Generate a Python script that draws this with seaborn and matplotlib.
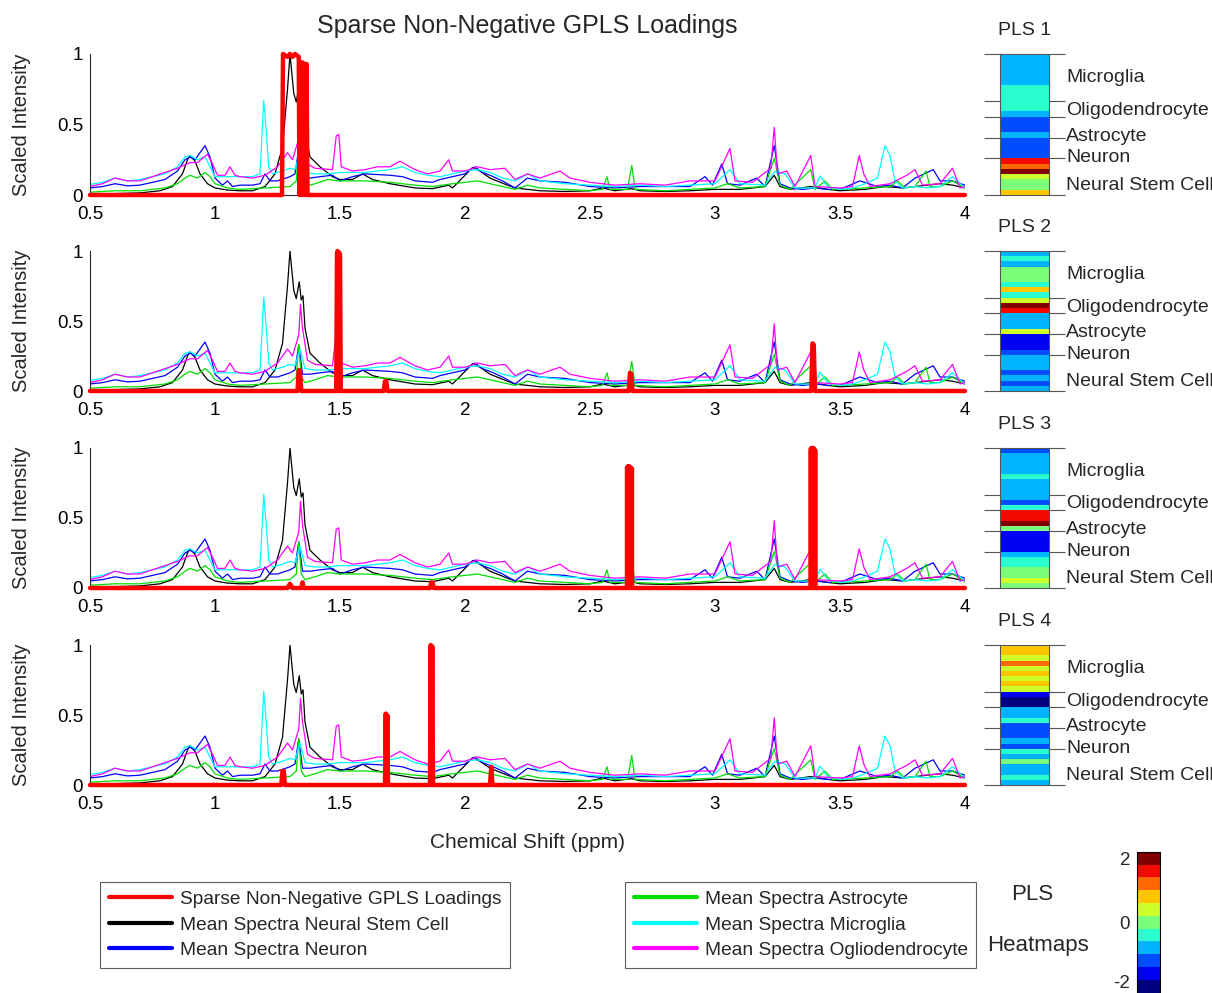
import numpy as np
import pandas as pd
import matplotlib
matplotlib.use("Agg")
import matplotlib.pyplot as plt
from matplotlib.lines import Line2D
from matplotlib import transforms
import seaborn as sns

# ---------------- data ----------------
# Mean spectra (ppm, scaled intensity)
nsc_x = [0.50, 0.60, 0.70, 0.78, 0.83, 0.87, 0.89, 0.90, 0.92, 0.94, 0.97, 1.00, 1.05, 1.10, 1.15, 1.20,
         1.24, 1.27, 1.29, 1.30, 1.315, 1.325, 1.337, 1.345, 1.352, 1.36, 1.38, 1.42, 1.47, 1.50, 1.55,
         1.59, 1.63, 1.70, 1.80, 1.87, 1.935, 1.95, 2.00, 2.03, 2.06, 2.10, 2.17, 2.20, 2.30, 2.40, 2.50,
         2.55, 2.60, 2.667, 2.70, 2.80, 2.90, 3.00, 3.10, 3.20, 3.237, 3.26, 3.30, 3.383, 3.45, 3.50, 3.60,
         3.68, 3.75, 3.80, 3.90, 3.95, 4.00]
nsc_y = [0.01, 0.01, 0.015, 0.03, 0.06, 0.15, 0.25, 0.28, 0.24, 0.15, 0.08, 0.05, 0.035, 0.03, 0.03, 0.06,
         0.15, 0.34, 0.75, 1.00, 0.72, 0.66, 0.78, 0.65, 0.68, 0.45, 0.27, 0.20, 0.13, 0.11, 0.11,
         0.15, 0.11, 0.08, 0.05, 0.045, 0.07, 0.05, 0.14, 0.195, 0.17, 0.12, 0.07, 0.05, 0.03, 0.025, 0.03,
         0.05, 0.03, 0.045, 0.03, 0.025, 0.03, 0.04, 0.04, 0.06, 0.14, 0.06, 0.04, 0.06, 0.04, 0.03, 0.04,
         0.06, 0.05, 0.06, 0.08, 0.07, 0.05]

neuron_x = [0.50, 0.55, 0.60, 0.65, 0.70, 0.75, 0.80, 0.85, 0.88, 0.90, 0.92, 0.94, 0.96, 0.98, 1.00, 1.03,
            1.05, 1.07, 1.10, 1.15, 1.18, 1.20, 1.22, 1.25, 1.30, 1.32, 1.335, 1.35, 1.38, 1.42, 1.47, 1.50,
            1.55, 1.60, 1.70, 1.75, 1.80, 1.87, 1.90, 1.95, 2.00, 2.04, 2.07, 2.10, 2.15, 2.20, 2.25, 2.30,
            2.40, 2.50, 2.60, 2.70, 2.80, 2.90, 2.96, 2.99, 3.027, 3.05, 3.10, 3.167, 3.20, 3.237, 3.26, 3.30,
            3.35, 3.40, 3.45, 3.50, 3.58, 3.65, 3.70, 3.75, 3.80, 3.873, 3.90, 3.95, 4.00]
neuron_y = [0.05, 0.06, 0.08, 0.065, 0.07, 0.09, 0.11, 0.17, 0.25, 0.27, 0.25, 0.30, 0.35, 0.27, 0.12, 0.07,
            0.10, 0.06, 0.07, 0.07, 0.08, 0.15, 0.10, 0.10, 0.13, 0.15, 0.33, 0.12, 0.12, 0.13, 0.14, 0.10,
            0.13, 0.15, 0.14, 0.13, 0.10, 0.09, 0.11, 0.13, 0.15, 0.20, 0.16, 0.14, 0.10, 0.05, 0.12, 0.10,
            0.09, 0.06, 0.05, 0.06, 0.06, 0.06, 0.13, 0.07, 0.22, 0.08, 0.07, 0.12, 0.06, 0.35, 0.08, 0.05,
            0.04, 0.05, 0.04, 0.04, 0.10, 0.06, 0.07, 0.05, 0.12, 0.18, 0.10, 0.10, 0.07]

astro_x = [0.50, 0.60, 0.70, 0.80, 0.85, 0.88, 0.90, 0.93, 0.96, 0.98, 1.00, 1.05, 1.10, 1.20, 1.30, 1.325,
           1.335, 1.345, 1.36, 1.40, 1.45, 1.50, 1.60, 1.70, 1.80, 1.87, 1.95, 2.05, 2.10, 2.15, 2.20, 2.25,
           2.30, 2.40, 2.50, 2.55, 2.568, 2.58, 2.65, 2.667, 2.68, 2.80, 2.90, 3.00, 3.05, 3.10, 3.20, 3.237,
           3.26, 3.30, 3.383, 3.40, 3.44, 3.47, 3.50, 3.60, 3.70, 3.73, 3.76, 3.80, 3.844, 3.86, 3.90, 3.95,
           4.00]
astro_y = [0.02, 0.03, 0.03, 0.05, 0.08, 0.12, 0.14, 0.12, 0.16, 0.13, 0.08, 0.05, 0.04, 0.05, 0.06, 0.10,
           0.33, 0.10, 0.06, 0.08, 0.11, 0.10, 0.10, 0.09, 0.07, 0.06, 0.08, 0.10, 0.08, 0.06, 0.04, 0.07,
           0.05, 0.04, 0.03, 0.04, 0.13, 0.04, 0.04, 0.21, 0.04, 0.03, 0.04, 0.05, 0.08, 0.05, 0.06, 0.26,
           0.07, 0.04, 0.18, 0.04, 0.10, 0.04, 0.04, 0.05, 0.06, 0.10, 0.05, 0.06, 0.17, 0.06, 0.06, 0.10,
           0.05]

micro_x = [0.50, 0.55, 0.60, 0.65, 0.70, 0.75, 0.80, 0.85, 0.88, 0.90, 0.93, 0.96, 0.98, 1.00, 1.05, 1.10,
           1.15, 1.18, 1.195, 1.205, 1.215, 1.23, 1.27, 1.30, 1.32, 1.34, 1.36, 1.40, 1.45, 1.50, 1.55, 1.60,
           1.70, 1.75, 1.80, 1.85, 1.90, 1.95, 2.00, 2.05, 2.10, 2.15, 2.20, 2.253, 2.30, 2.40, 2.50, 2.60,
           2.70, 2.80, 2.90, 3.00, 3.06, 3.10, 3.20, 3.24, 3.28, 3.32, 3.40, 3.42, 3.45, 3.50, 3.55, 3.60,
           3.65, 3.68, 3.70, 3.72, 3.75, 3.80, 3.85, 3.90, 3.95, 4.00]
micro_y = [0.075, 0.09, 0.12, 0.10, 0.11, 0.13, 0.15, 0.20, 0.27, 0.28, 0.25, 0.27, 0.20, 0.13, 0.13, 0.13,
           0.13, 0.15, 0.67, 0.45, 0.20, 0.15, 0.17, 0.19, 0.18, 0.30, 0.16, 0.15, 0.15, 0.16, 0.16, 0.16,
           0.18, 0.20, 0.16, 0.14, 0.13, 0.15, 0.17, 0.18, 0.16, 0.12, 0.10, 0.15, 0.10, 0.08, 0.07, 0.06,
           0.07, 0.06, 0.07, 0.08, 0.18, 0.08, 0.07, 0.17, 0.15, 0.05, 0.05, 0.135, 0.06, 0.04, 0.05, 0.08,
           0.12, 0.35, 0.28, 0.10, 0.05, 0.06, 0.05, 0.06, 0.13, 0.05]

oligo_x = [0.50, 0.55, 0.60, 0.65, 0.70, 0.75, 0.80, 0.85, 0.90, 0.93, 0.97, 0.99, 1.01, 1.04, 1.06, 1.08,
           1.10, 1.15, 1.20, 1.25, 1.29, 1.31, 1.335, 1.342, 1.35, 1.37, 1.40, 1.47, 1.485, 1.495, 1.505,
           1.55, 1.60, 1.65, 1.70, 1.74, 1.80, 1.85, 1.90, 1.935, 1.95, 2.00, 2.05, 2.10, 2.16, 2.20, 2.25,
           2.30, 2.38, 2.42, 2.50, 2.60, 2.70, 2.80, 2.90, 3.00, 3.06, 3.08, 3.15, 3.223, 3.237, 3.25, 3.287,
           3.32, 3.383, 3.40, 3.50, 3.55, 3.577, 3.595, 3.62, 3.70, 3.767, 3.80, 3.83, 3.90, 3.95, 3.98, 4.00]
oligo_y = [0.06, 0.08, 0.12, 0.10, 0.10, 0.13, 0.16, 0.19, 0.23, 0.23, 0.29, 0.22, 0.14, 0.14, 0.20, 0.14,
           0.13, 0.12, 0.14, 0.20, 0.30, 0.25, 0.40, 0.62, 0.45, 0.22, 0.19, 0.18, 0.42, 0.43, 0.20,
           0.17, 0.18, 0.20, 0.20, 0.24, 0.18, 0.15, 0.17, 0.25, 0.17, 0.17, 0.20, 0.18, 0.19, 0.11, 0.15,
           0.12, 0.17, 0.12, 0.09, 0.07, 0.08, 0.07, 0.10, 0.10, 0.33, 0.10, 0.09, 0.19, 0.48, 0.15, 0.17,
           0.06, 0.28, 0.06, 0.05, 0.06, 0.28, 0.15, 0.06, 0.08, 0.14, 0.18, 0.07, 0.08, 0.19, 0.05, 0.06]

spectra_names = ["Mean Spectra Neural Stem Cell", "Mean Spectra Neuron", "Mean Spectra Astrocyte",
                 "Mean Spectra Microglia", "Mean Spectra Ogliodendrocyte"]
spectra_x = [nsc_x, neuron_x, astro_x, micro_x, oligo_x]
spectra_y = [nsc_y, neuron_y, astro_y, micro_y, oligo_y]
spectra_colors = ["black", "blue", "#00e000", "cyan", "magenta"]

# Sparse non-negative GPLS loadings (one per component)
load1_x = [0.5, 1.268, 1.272, 1.29, 1.30, 1.31, 1.32, 1.335, 1.338, 1.342, 1.346, 1.350, 1.354, 1.358,
           1.362, 1.366, 1.370, 4.0]
load1_y = [0, 0, 1.0, 0.98, 1.0, 0.98, 1.0, 0.98, 0.0, 0.94, 0.0, 0.94, 0.0, 0.93, 0.0, 0.93, 0, 0]
load2_x = [0.5, 1.33, 1.335, 1.34, 1.345, 1.485, 1.488, 1.49, 1.493, 1.496, 1.50, 1.503, 1.675, 1.68,
           1.685, 1.69, 2.655, 2.66, 2.665, 2.67, 3.385, 3.39, 3.395, 3.40, 4.0]
load2_y = [0, 0, 0.15, 0.14, 0, 0, 0.98, 1.0, 0.0, 0.99, 0.97, 0, 0, 0.07, 0.07, 0, 0, 0.13, 0.12, 0, 0,
           0.34, 0.33, 0, 0]
load3_x = [0.5, 1.29, 1.30, 1.31, 1.345, 1.35, 1.355, 1.86, 1.865, 1.87, 1.875,
           2.648, 2.648, 2.652, 2.652, 2.656, 2.656, 2.660, 2.660, 2.664, 2.664, 2.668, 2.668,
           3.382, 3.382, 3.386, 3.386, 3.390, 3.390, 3.394, 3.394, 3.398, 3.398, 3.402, 3.402,
           4.0]
load3_y = [0, 0, 0.03, 0, 0, 0.04, 0, 0, 0.04, 0.04, 0,
           0, 0.86, 0.87, 0, 0, 0.87, 0.86, 0, 0, 0.86, 0.85, 0,
           0, 0.99, 1.0, 0, 0, 1.0, 1.0, 0, 0, 0.99, 0.98, 0,
           0]
load4_x = [0.5, 1.265, 1.27, 1.275, 1.28, 1.68, 1.683, 1.686, 1.689, 1.692, 1.86, 1.863, 1.866, 1.869,
           1.872, 2.10, 2.105, 2.11, 4.0]
load4_y = [0, 0, 0.10, 0.10, 0, 0, 0.51, 0.0, 0.50, 0, 0, 1.0, 0.0, 0.99, 0, 0, 0.13, 0, 0]
loads_x = [load1_x, load2_x, load3_x, load4_x]
loads_y = [load1_y, load2_y, load3_y, load4_y]

# PLS heatmaps: 27 samples (top to bottom)
pls1 = [-0.8, -0.8, -0.8, -0.8, -0.8, -0.8, -0.4, -0.4, -0.4, -0.4, -0.4, -0.8, -1.2, -1.2, -1.2, -0.8,
        -1.2, -1.2, -1.2, -1.2, 1.6, 1.2, 2.0, 0.4, 0.0, 0.0, 0.8]
pls2 = [-0.8, -0.4, -0.8, 0.0, 0.0, 0.0, -0.4, 0.8, -0.4, 0.4, 2.0, 1.6, -0.8, -0.8, -0.8, 0.4,
        -1.6, -1.6, -1.6, -1.2, -0.8, -0.8, -0.8, -1.2, -0.8, -1.2, -0.8]
pls3 = [-1.2, -0.8, -0.8, -0.8, -0.8, -0.4, -0.8, -0.8, -0.8, -0.8, -1.2, -0.4, 1.6, 1.6, 2.0, 0.0,
        -1.6, -1.6, -1.6, -1.6, -0.8, -0.4, -0.4, 0.0, 0.0, 0.4, 0.0]
pls4 = [0.8, 0.8, 0.4, 1.2, 0.4, 0.8, 0.4, 0.8, 0.4, -1.6, -2.0, -2.0, -0.8, -0.8, -0.4, -1.2,
        -1.2, -1.2, -0.8, -1.2, -0.4, -0.8, 0.0, -0.8, -0.8, -0.4, -0.8]
pls_values = [pls1, pls2, pls3, pls4]
group_labels = ["Microglia", "Oligodendrocyte", "Astrocyte", "Neuron", "Neural Stem Cell"]
group_bounds = [0, 9, 12, 16, 20, 27]
label_rows = [4.5, 10.8, 15.8, 19.9, 25.2]

x_ticks = [0.5, 1, 1.5, 2, 2.5, 3, 3.5, 4]
x_ticklabels = ["0.5", "1", "1.5", "2", "2.5", "3", "3.5", "4"]
y_ticks = [0, 0.5, 1]
y_ticklabels = ["0", "0.5", "1"]
cbar_ticks = [-2, 0, 2]
cbar_ticklabels = ["-2", "0", "2"]

# ---------------- style ----------------
sns.set_style("white")
plt.rcParams["font.family"] = ["Liberation Sans", "DejaVu Sans"]
plt.rcParams["axes.unicode_minus"] = False
AX = "#262626"

W, H = 1212, 993
fig = plt.figure(figsize=(W / 100, H / 100), dpi=100)


def fx(px):
    return px / W


def fy(py):
    return 1 - py / H


panel_tops = [54, 251, 448, 645]
panel_bots = [195, 391, 588, 785]

spec_df = pd.concat([pd.DataFrame({"ppm": x, "intensity": y, "series": n})
                     for x, y, n in zip(spectra_x, spectra_y, spectra_names)], ignore_index=True)
palette = dict(zip(spectra_names, spectra_colors))

cmap = plt.get_cmap("jet", 11)

for i in range(4):
    top, bot = panel_tops[i], panel_bots[i]
    ax = fig.add_axes([fx(90), fy(bot), fx(965) - fx(90), (bot - top) / H])
    sns.lineplot(data=spec_df, x="ppm", y="intensity", hue="series", palette=palette,
                 estimator=None, sort=False, lw=0.9, legend=False, ax=ax)
    sns.lineplot(x=loads_x[i], y=loads_y[i], color="red", lw=3.2, estimator=None, sort=False,
                 ax=ax, clip_on=False, zorder=5)
    ax.set_xlim(0.5, 4)
    ax.set_ylim(0, 1)
    ax.set_xticks(x_ticks)
    ax.set_xticklabels(x_ticklabels)
    ax.set_yticks(y_ticks)
    ax.set_yticklabels(y_ticklabels)
    ax.set_xlabel("")
    ax.set_ylabel("Scaled Intensity", fontsize=14.5)
    ax.yaxis.set_label_coords(-(90 - 31) / 875, 0.5)
    for s in ["top", "right"]:
        ax.spines[s].set_visible(False)
    for s in ["left", "bottom"]:
        ax.spines[s].set_color(AX)
        ax.spines[s].set_linewidth(0.8)
    ax.tick_params(axis="both", direction="in", length=6, width=0.8, color=AX,
                   labelsize=13.5, labelcolor="black", pad=5)
    ax.tick_params(axis="x", pad=8)
    ax.patch.set_alpha(0)

    # heatmap
    hax = fig.add_axes([fx(1000), fy(bot), fx(1049) - fx(1000), (bot - top) / H])
    sns.heatmap(np.array(pls_values[i]).reshape(-1, 1), ax=hax, cmap=cmap, vmin=-2.2, vmax=2.2,
                cbar=False, xticklabels=False, yticklabels=False)
    for s in hax.spines.values():
        s.set_visible(True)
        s.set_color("#555555")
        s.set_linewidth(0.8)
    hax.set_xticks([])
    hax.set_yticks(group_bounds)
    hax.set_yticklabels([])
    hax.tick_params(axis="y", left=True, right=True, direction="out", length=11.5, width=0.8,
                    color="#555555", labelleft=False)
    tr = transforms.blended_transform_factory(hax.transAxes, hax.transData)
    for lab, r in zip(group_labels, label_rows):
        hax.text((1066 - 1000) / 49, r, lab, transform=tr, ha="left", va="center", fontsize=14)
    hax.text(0.5, 1 + 23.5 / (bot - top), f"PLS {i + 1}", transform=hax.transAxes,
             ha="center", va="center", fontsize=14)

# colorbar
cax = fig.add_axes([fx(1137), fy(992.5), fx(1160) - fx(1137), 140.8 / H])
sm = plt.cm.ScalarMappable(cmap=cmap, norm=plt.Normalize(-2.2, 2.2))
cb = fig.colorbar(sm, cax=cax, ticks=cbar_ticks)
cb.ax.set_yticklabels(cbar_ticklabels)
cb.ax.yaxis.set_ticks_position("left")
cb.ax.tick_params(length=0, labelsize=13.5, pad=5)
cb.outline.set_linewidth(0.8)
cb.outline.set_edgecolor("black")
# keep the lowest label fully inside the figure
low = cb.ax.get_yticklabels()[0]
low.set_transform(low.get_transform() + transforms.ScaledTranslation(0, 5 / 100, fig.dpi_scale_trans))

# titles / labels
fig.text(fx(527), fy(26), "Sparse Non-Negative GPLS Loadings", ha="center", va="center", fontsize=18)
fig.text(fx(527), fy(843), "Chemical Shift (ppm)", ha="center", va="center", fontsize=15)
fig.text(fx(1032), fy(895), "PLS", ha="center", va="center", fontsize=16)
fig.text(fx(1038), fy(945), "Heatmaps", ha="center", va="center", fontsize=16)

# legends
h1 = [Line2D([], [], color="red", lw=3), Line2D([], [], color="black", lw=3),
      Line2D([], [], color="blue", lw=3)]
l1 = ["Sparse Non-Negative GPLS Loadings", "Mean Spectra Neural Stem Cell", "Mean Spectra Neuron"]
h2 = [Line2D([], [], color="#00e000", lw=3), Line2D([], [], color="cyan", lw=3),
      Line2D([], [], color="magenta", lw=3)]
l2 = ["Mean Spectra Astrocyte", "Mean Spectra Microglia", "Mean Spectra Ogliodendrocyte"]
for hs, ls, x0 in [(h1, l1, 100), (h2, l2, 625)]:
    leg = fig.legend(hs, ls, loc="upper left", bbox_to_anchor=(fx(x0), fy(882)), frameon=True,
                     fancybox=False, edgecolor="#333333", fontsize=13.8, handlelength=3.3,
                     handletextpad=0.4, labelspacing=0.42, borderpad=0.45, borderaxespad=0)
    leg.get_frame().set_linewidth(0.8)

fig.savefig("out.png", dpi=100)
